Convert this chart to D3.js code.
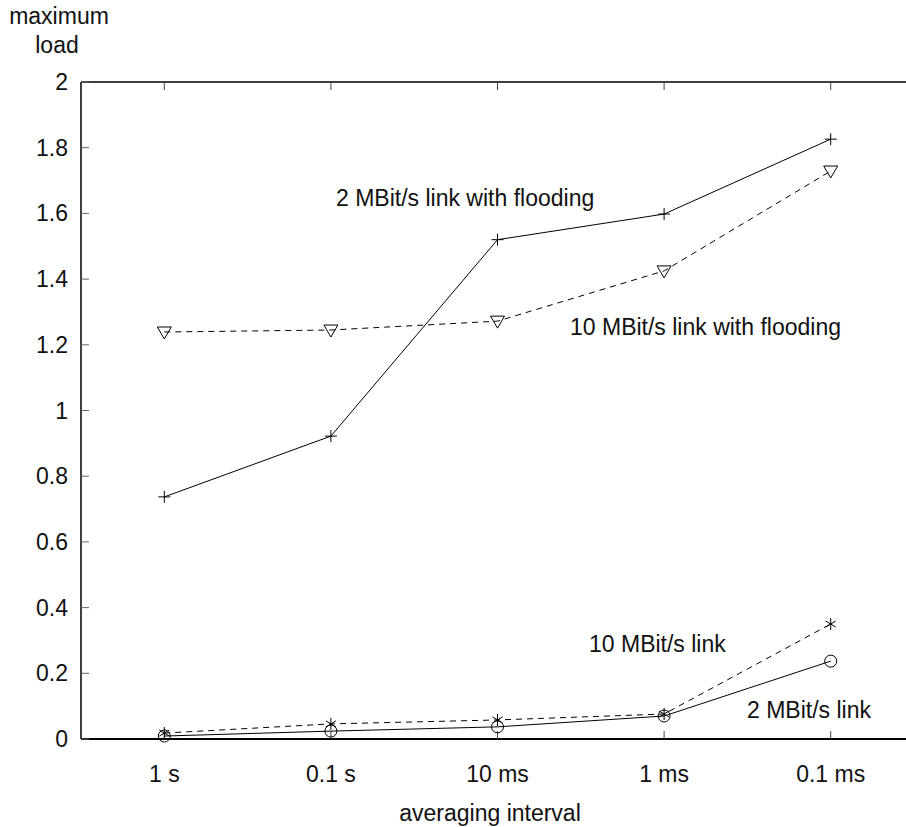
<!DOCTYPE html>
<html>
<head>
<meta charset="utf-8">
<script src="https://cdn.jsdelivr.net/npm/d3@7"></script>
<style>
  body { margin: 0; background: #fff; }
  text { font-family: "Liberation Sans", Arial, sans-serif; font-size: 23px; fill: #111; }
</style>
</head>
<body>
<div id="chart"></div>
<script>
var intervals = ["1 s", "0.1 s", "10 ms", "1 ms", "0.1 ms"];
var yTicks = [0, 0.2, 0.4, 0.6, 0.8, 1, 1.2, 1.4, 1.6, 1.8, 2];

var flood2 = [0.737, 0.922, 1.52, 1.598, 1.826];
var flood10 = [1.239, 1.245, 1.272, 1.425, 1.729];
var link10 = [0.018, 0.046, 0.058, 0.076, 0.35];
var link2 = [0.009, 0.024, 0.037, 0.07, 0.237];

var series = [
  {name: "2 MBit/s link with flooding", values: flood2, dash: null, marker: "plus", lx: 336, ly: 206},
  {name: "10 MBit/s link with flooding", values: flood10, dash: "6,5", marker: "tri", lx: 570, ly: 335},
  {name: "10 MBit/s link", values: link10, dash: "6,5", marker: "star", lx: 589, ly: 652},
  {name: "2 MBit/s link", values: link2, dash: null, marker: "circle", lx: 747, ly: 718}
];

var width = 906, height = 827;
var pLeft = 81, pTop = 82, pBottom = 739, pRight = 914;

var svg = d3.select("#chart").append("svg")
    .attr("width", width)
    .attr("height", height);

var x = d3.scaleLinear().domain([-0.5, intervals.length - 0.5]).range([pLeft, pRight]);
var y = d3.scaleLinear().domain([0, 2]).range([pBottom, pTop]);

// frame
svg.append("line").attr("x1", pLeft).attr("x2", pRight).attr("y1", pTop).attr("y2", pTop)
    .attr("stroke", "#000").attr("stroke-width", 1.5);
svg.append("line").attr("x1", pLeft).attr("x2", pRight).attr("y1", pBottom).attr("y2", pBottom)
    .attr("stroke", "#000").attr("stroke-width", 2);
svg.append("line").attr("x1", pLeft).attr("x2", pLeft).attr("y1", pTop).attr("y2", pBottom)
    .attr("stroke", "#000").attr("stroke-width", 1.5);

// y ticks, both sides pointing in
yTicks.forEach(function(t) {
  svg.append("line").attr("x1", pLeft).attr("x2", pLeft + 8).attr("y1", y(t)).attr("y2", y(t))
      .attr("stroke", "#666").attr("stroke-width", 1);
  svg.append("line").attr("x1", pRight - 8).attr("x2", pRight).attr("y1", y(t)).attr("y2", y(t))
      .attr("stroke", "#666").attr("stroke-width", 1);
  svg.append("text").attr("x", 68).attr("y", y(t) + 8)
      .attr("text-anchor", "end").text(t);
});

// x ticks, top and bottom
intervals.forEach(function(c, i) {
  svg.append("line").attr("x1", x(i)).attr("x2", x(i)).attr("y1", pBottom).attr("y2", pBottom - 8)
      .attr("stroke", "#444").attr("stroke-width", 1);
  svg.append("line").attr("x1", x(i)).attr("x2", x(i)).attr("y1", pTop).attr("y2", pTop + 8)
      .attr("stroke", "#444").attr("stroke-width", 1);
  svg.append("text").attr("x", x(i)).attr("y", 782)
      .attr("text-anchor", "middle").text(c);
});

svg.append("text").attr("x", 59).attr("y", 24).attr("text-anchor", "middle").text("maximum");
svg.append("text").attr("x", 57).attr("y", 53).attr("text-anchor", "middle").text("load");
svg.append("text").attr("x", 490).attr("y", 821).attr("text-anchor", "middle").text("averaging interval");

var line = d3.line()
    .x(function(d, i) { return x(i); })
    .y(function(d) { return y(d); });

function drawMarker(g, kind, cx, cy) {
  var s = 6;
  if (kind == "plus") {
    g.append("path").attr("d", "M" + (cx - s) + "," + cy + "H" + (cx + s) + "M" + cx + "," + (cy - s) + "V" + (cy + s))
        .attr("stroke", "#000").attr("fill", "none");
  } else if (kind == "tri") {
    g.append("path").attr("d", "M" + (cx - 7) + "," + (cy - 5) + "H" + (cx + 7) + "L" + cx + "," + (cy + 7) + "Z")
        .attr("stroke", "#000").attr("fill", "none");
  } else if (kind == "circle") {
    g.append("circle").attr("cx", cx).attr("cy", cy).attr("r", 6)
        .attr("stroke", "#000").attr("fill", "none");
  } else if (kind == "star") {
    var d = "M" + cx + "," + (cy - s) + "V" + (cy + s);
    d += "M" + (cx - 5) + "," + (cy - 3) + "L" + (cx + 5) + "," + (cy + 3);
    d += "M" + (cx - 5) + "," + (cy + 3) + "L" + (cx + 5) + "," + (cy - 3);
    g.append("path").attr("d", d).attr("stroke", "#000").attr("fill", "none");
  }
}

series.forEach(function(s) {
  var g = svg.append("g");
  g.append("path")
      .datum(s.values)
      .attr("d", line)
      .attr("fill", "none")
      .attr("stroke", "#000")
      .attr("stroke-width", 1)
      .attr("stroke-dasharray", s.dash);
  s.values.forEach(function(v, i) {
    drawMarker(g, s.marker, x(i), y(v));
  });
  svg.append("text").attr("x", s.lx).attr("y", s.ly).text(s.name);
});
</script>
</body>
</html>
